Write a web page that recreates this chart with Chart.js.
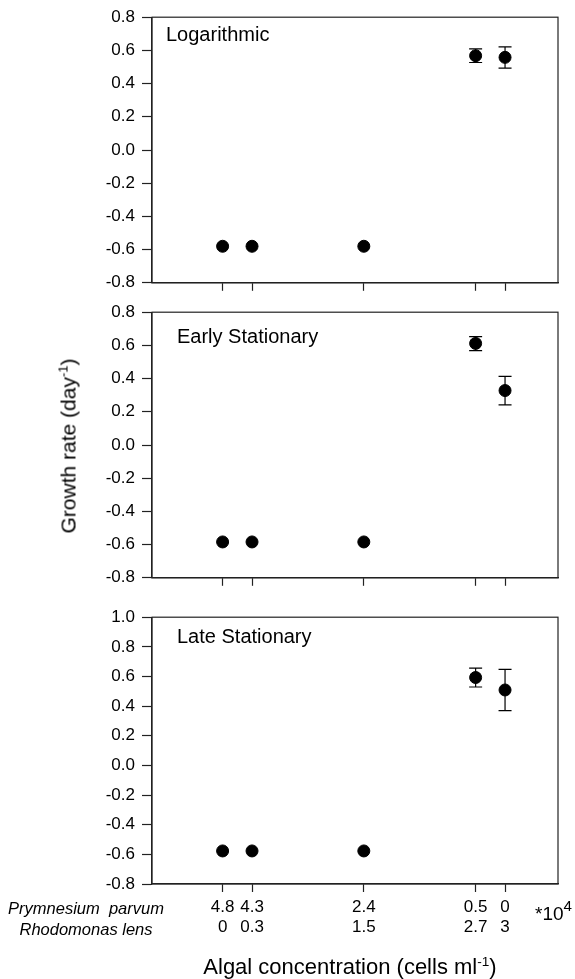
<!DOCTYPE html>
<html>
<head>
<meta charset="utf-8">
<script src="https://cdn.jsdelivr.net/npm/chart.js@4.4.1/dist/chart.umd.min.js"></script>
<style>
  body { margin: 0; background: #fff; font-family: "Liberation Sans", Arial, sans-serif; color: #000; }
  #wrap { position: relative; width: 575px; height: 979px; overflow: hidden; }
  canvas { position: absolute; left: 0; }
  .txt { position: absolute; white-space: pre; line-height: 1; z-index: 2; }
  sup { font-size: 0.62em; vertical-align: 0.6em; line-height: 0; }
</style>
</head>
<body>
<div id="wrap">
  <canvas id="logChart" width="575" height="300" style="top:0px"></canvas>
  <canvas id="earlyChart" width="575" height="300" style="top:295px"></canvas>
  <canvas id="lateChart" width="575" height="379" style="top:600px"></canvas>

  <div class="txt" style="left:68px; top:446px; font-size:21px; transform: translate(-50%, -50%) rotate(-90deg);">Growth rate (day<sup>-1</sup>)</div>
  <div class="txt" style="left:86px; top:908px; font-size:16.5px; font-style:italic; transform: translate(-50%, -50%);">Prymnesium  parvum</div>
  <div class="txt" style="left:86px; top:929px; font-size:16.5px; font-style:italic; transform: translate(-50%, -50%);">Rhodomonas lens</div>
  <div class="txt" style="left:535px; top:904px; font-size:19px;">*10<sup style="font-size:0.8em">4</sup></div>
  <div class="txt" style="left:350px; top:967px; font-size:22px; transform: translate(-50%, -50%);">Algal concentration (cells ml<sup>-1</sup>)</div>
</div>
<script>
// x positions: Prymnesium parvum and Rhodomonas lens (*10^4 cells/ml)
const ppConc = [4.8, 4.3, 2.4, 0.5, 0];
const rlConc = [0, 0.3, 1.5, 2.7, 3];

// growth rates (day^-1) with error bar ends
const logRate = [-0.58, -0.58, -0.58, 0.568, 0.558];
const logLow = [null, null, null, 0.527, 0.493];
const logHigh = [null, null, null, 0.609, 0.621];

const earlyRate = [-0.584, -0.584, -0.584, 0.612, 0.328];
const earlyLow = [null, null, null, 0.569, 0.242];
const earlyHigh = [null, null, null, 0.653, 0.413];

const lateRate = [-0.577, -0.577, -0.577, 0.593, 0.509];
const lateLow = [null, null, null, 0.529, 0.370];
const lateHigh = [null, null, null, 0.657, 0.648];

const FONT = '"Liberation Sans", Arial, sans-serif';

const frameAndBars = {
  id: 'frameAndBars',
  afterDatasetsDraw(chart, args, opts) {
    const { ctx, chartArea, scales } = chart;
    ctx.save();
    ctx.strokeStyle = '#000';
    ctx.lineWidth = 1.2;
    // error bars
    opts.low.forEach((lo, i) => {
      if (lo == null) return;
      const x = scales.x.getPixelForValue(ppConc[i]);
      const yl = scales.y.getPixelForValue(lo);
      const yh = scales.y.getPixelForValue(opts.high[i]);
      ctx.beginPath();
      ctx.moveTo(x, yl); ctx.lineTo(x, yh);
      ctx.moveTo(x - 6.5, yl); ctx.lineTo(x + 6.5, yl);
      ctx.moveTo(x - 6.5, yh); ctx.lineTo(x + 6.5, yh);
      ctx.stroke();
    });
    // box around the plot
    ctx.strokeStyle = '#222';
    ctx.strokeRect(chartArea.left, chartArea.top, chartArea.right - chartArea.left, chartArea.bottom - chartArea.top);
    // panel label
    ctx.fillStyle = '#000';
    ctx.font = '20px ' + FONT;
    ctx.textBaseline = 'middle';
    ctx.fillText(opts.label, chartArea.left + opts.dx, chartArea.top + opts.dy);
    ctx.restore();
  }
};

function makePanel(id, rates, low, high, label, yMax, pad, labelPos, showTicks) {
  return new Chart(document.getElementById(id), {
    type: 'scatter',
    data: {
      datasets: [{
        data: ppConc.map((x, i) => ({ x: x, y: rates[i] })),
        pointRadius: 6,
        pointBackgroundColor: '#000',
        pointBorderColor: '#000',
        showLine: false
      }]
    },
    options: {
      responsive: false,
      animation: false,
      layout: { padding: pad },
      plugins: {
        legend: { display: false },
        tooltip: { enabled: false },
        frameAndBars: { low: low, high: high, label: label, dx: labelPos[0], dy: labelPos[1] }
      },
      scales: {
        x: {
          type: 'linear',
          reverse: true,
          min: -0.9,
          max: 6,
          afterBuildTicks: axis => { axis.ticks = ppConc.map(v => ({ value: v })); },
          afterFit: axis => { axis.height = showTicks ? 56 : 8; },
          border: { color: '#222', width: 1.2 },
          grid: { drawOnChartArea: false, tickLength: 8, tickColor: '#222', tickWidth: 1.2 },
          ticks: {
            display: showTicks,
            color: '#000',
            padding: 5,
            maxRotation: 0,
            autoSkip: false,
            font: { family: FONT, size: 17, lineHeight: 1.2 },
            callback: (v, i) => [String(ppConc[i]), String(rlConc[i])]
          }
        },
        y: {
          min: -0.8,
          max: yMax,
          afterFit: axis => { axis.width = 152; },
          border: { color: '#222', width: 1.2 },
          grid: { drawOnChartArea: false, tickLength: 10, tickColor: '#222', tickWidth: 1.2 },
          ticks: {
            stepSize: 0.2,
            color: '#000',
            padding: 7,
            font: { family: FONT, size: 17 },
            callback: v => (Math.abs(v) < 1e-9 ? 0 : v).toFixed(1)
          }
        }
      }
    },
    plugins: [frameAndBars]
  });
}

makePanel('logChart', logRate, logLow, logHigh, 'Logarithmic', 0.8,
  { top: 14, right: 17, bottom: 7, left: 0 }, [14, 18], false);
makePanel('earlyChart', earlyRate, earlyLow, earlyHigh, 'Early Stationary', 0.8,
  { top: 12, right: 17, bottom: 7, left: 0 }, [25, 25], false);
makePanel('lateChart', lateRate, lateLow, lateHigh, 'Late Stationary', 1.0,
  { top: 13, right: 17, bottom: 39, left: 0 }, [25, 20], true);
</script>
</body>
</html>
